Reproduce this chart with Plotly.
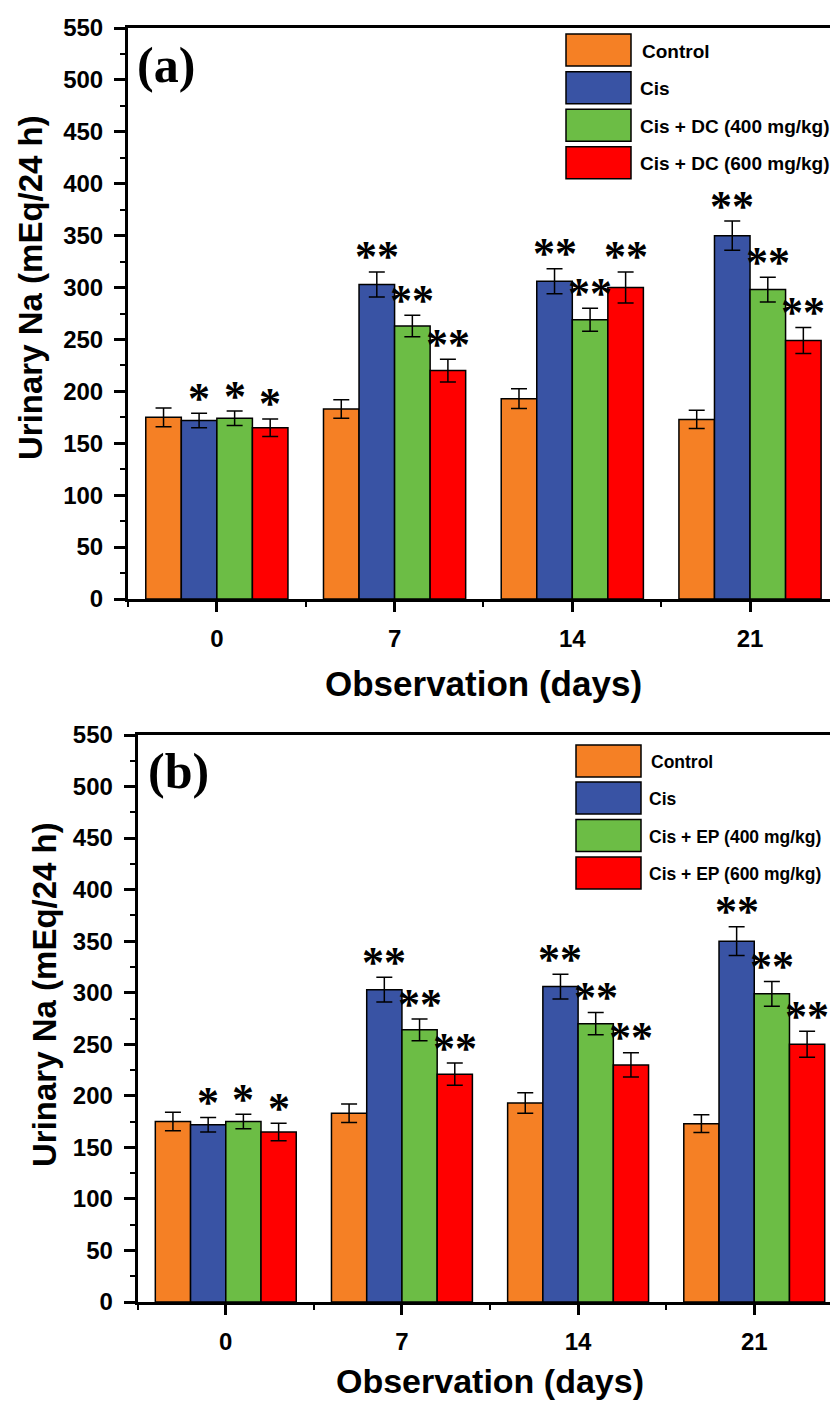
import plotly.graph_objects as go

W, H = 830, 1401

days = ["0", "7", "14", "21"]
groups_a = ["Control", "Cis", "Cis + DC (400 mg/kg)", "Cis + DC (600 mg/kg)"]
groups_b = ["Control", "Cis", "Cis + EP (400 mg/kg)", "Cis + EP (600 mg/kg)"]
colors = ["#F58025", "#3953A4", "#6CBD45", "#FF0000"]

# Panel (a) values
a_control = [175, 183, 193, 173]
a_control_err = [9, 9, 9.5, 8.7]
a_cis = [172, 303, 306, 350]
a_cis_err = [7, 12, 12, 14]
a_dc400 = [174, 263, 269, 298]
a_dc400_err = [7, 10.4, 11, 12]
a_dc600 = [165, 220, 300, 249]
a_dc600_err = [8.5, 11, 15, 12.5]

# Panel (b) values
b_control = [175, 183, 193, 173]
b_control_err = [9, 9, 10, 8.7]
b_cis = [172, 303, 306, 350]
b_cis_err = [7, 12, 12, 14]
b_ep400 = [175, 264, 270, 299]
b_ep400_err = [7, 10.5, 10.7, 12]
b_ep600 = [165, 221, 230, 250]
b_ep600_err = [8.5, 10.8, 11.7, 12.6]

# significance marks per series (control has none)
sig_control = ["", "", "", ""]
sig_treated = ["*", "**", "**", "**"]

FONT = "Liberation Sans, Arial, sans-serif"
SERIF = "Liberation Serif, Times New Roman, serif"

def px(x):
    return x / W

def py(y):
    return 1 - y / H

fig = go.Figure()

panels = [
    dict(xa="x", ya="y", groups=groups_a,
         vals=[a_control, a_cis, a_dc400, a_dc600],
         errs=[a_control_err, a_cis_err, a_dc400_err, a_dc600_err]),
    dict(xa="x2", ya="y2", groups=groups_b,
         vals=[b_control, b_cis, b_ep400, b_ep600],
         errs=[b_control_err, b_cis_err, b_ep400_err, b_ep600_err]),
]
sigs = [sig_control, sig_treated, sig_treated, sig_treated]

annotations = []
shapes = []
xs = list(range(len(days)))
for p in panels:
    for k in range(4):
        fig.add_trace(go.Bar(
            x=xs, y=p["vals"][k], name=p["groups"][k],
            xaxis=p["xa"], yaxis=p["ya"],
            marker=dict(color=colors[k], line=dict(color="black", width=1.5)),
            error_y=dict(type="data", array=p["errs"][k], color="black",
                         thickness=1.5, width=8),
            showlegend=False,
        ))
        for i in xs:
            s = sigs[k][i]
            if s:
                annotations.append(dict(
                    x=i + (k - 1.5) * 0.2, y=p["vals"][k][i] + p["errs"][k][i],
                    xref=p["xa"], yref=p["ya"], text=s,
                    showarrow=False, yanchor="middle", xanchor="center",
                    yshift=15,
                    font=dict(family=SERIF, size=44, color="black", weight="bold")))

# layout geometry (pixels)
geo = [
    dict(x0=128, y_top=28, y_bot=599, xr=3.45, legx=566, legtx=638, legy=[34, 71.7, 109.3, 146.7],
         legfs=19, label="(a)", labx=135, laby=65, ytx=30, yty=288, xty=683, xtfs=35),
    dict(x0=137.7, y_top=735, y_bot=1302, xr=3.43, legx=576, legtx=647, legy=[745, 782, 819.5, 857],
         legfs=17.5, label="(b)", labx=146, laby=771, ytx=44, yty=995, xty=1381, xtfs=34),
]

axis_common = dict(showline=True, linecolor="black", linewidth=3, ticks="outside",
                   tickcolor="black", tickwidth=2.5, showgrid=False, zeroline=False,
                   automargin=False,
                   tickfont=dict(family=FONT, size=24, color="black", weight="bold"))

for n, (g, p) in enumerate(zip(geo, panels)):
    sfx = "" if n == 0 else "2"
    fig.layout["xaxis" + sfx] = dict(
        axis_common, domain=[px(g["x0"]), 1], range=[-0.5, g["xr"]],
        tickvals=xs, ticktext=days, ticklen=10, mirror=True,
        anchor="y" + sfx,
        minor=dict(ticks="outside", tickvals=[-0.5, 0.5, 1.5, 2.5], ticklen=5,
                   tickwidth=2, tickcolor="black"),
        ticklabelstandoff=6,
    )
    fig.layout["yaxis" + sfx] = dict(
        axis_common, domain=[py(g["y_bot"]), py(g["y_top"])], range=[0, 550],
        dtick=50, tick0=0, ticklen=11, anchor="x" + sfx,
        minor=dict(ticks="outside", dtick=25, ticklen=5, tickwidth=2, tickcolor="black"),
        ticklabelstandoff=6,
    )
    # legend (drawn as swatches + labels)
    for k in range(4):
        yt = g["legy"][k]
        shapes.append(dict(type="rect", xref="paper", yref="paper",
                           x0=px(g["legx"]), x1=px(g["legx"] + 65),
                           y0=py(yt + 32), y1=py(yt),
                           fillcolor=colors[k], line=dict(color="black", width=1.5)))
        annotations.append(dict(
            x=px(g["legtx"] + (2 if k == 0 else 0)), y=py(yt + 17), xref="paper", yref="paper",
            text=p["groups"][k], showarrow=False, xanchor="left", yanchor="middle",
            font=dict(family=FONT, size=g["legfs"], color="black", weight="bold")))
    # panel label
    annotations.append(dict(x=px(g["labx"]), y=py(g["laby"]), xref="paper", yref="paper",
                            text=g["label"], showarrow=False, xanchor="left", yanchor="middle",
                            font=dict(family=SERIF, size=50, color="black", weight="bold")))
    # axis titles
    annotations.append(dict(x=px(g["ytx"]), y=py(g["yty"]), xref="paper", yref="paper",
                            text="Urinary Na (mEq/24 h)", textangle=-90, showarrow=False,
                            xanchor="center", yanchor="middle",
                            font=dict(family=FONT, size=33, color="black", weight="bold")))
    annotations.append(dict(x=1.5, y=py(g["xty"]), xref="x" + sfx, yref="paper",
                            text="Observation (days)", showarrow=False,
                            xanchor="center", yanchor="middle",
                            font=dict(family=FONT, size=g["xtfs"], color="black", weight="bold")))

fig.update_layout(
    width=W, height=H, margin=dict(l=0, r=0, t=0, b=0, autoexpand=False),
    barmode="group", bargap=0.2, bargroupgap=0,
    plot_bgcolor="white", paper_bgcolor="white",
    showlegend=False, annotations=annotations, shapes=shapes,
)

fig.write_html("out.html")
